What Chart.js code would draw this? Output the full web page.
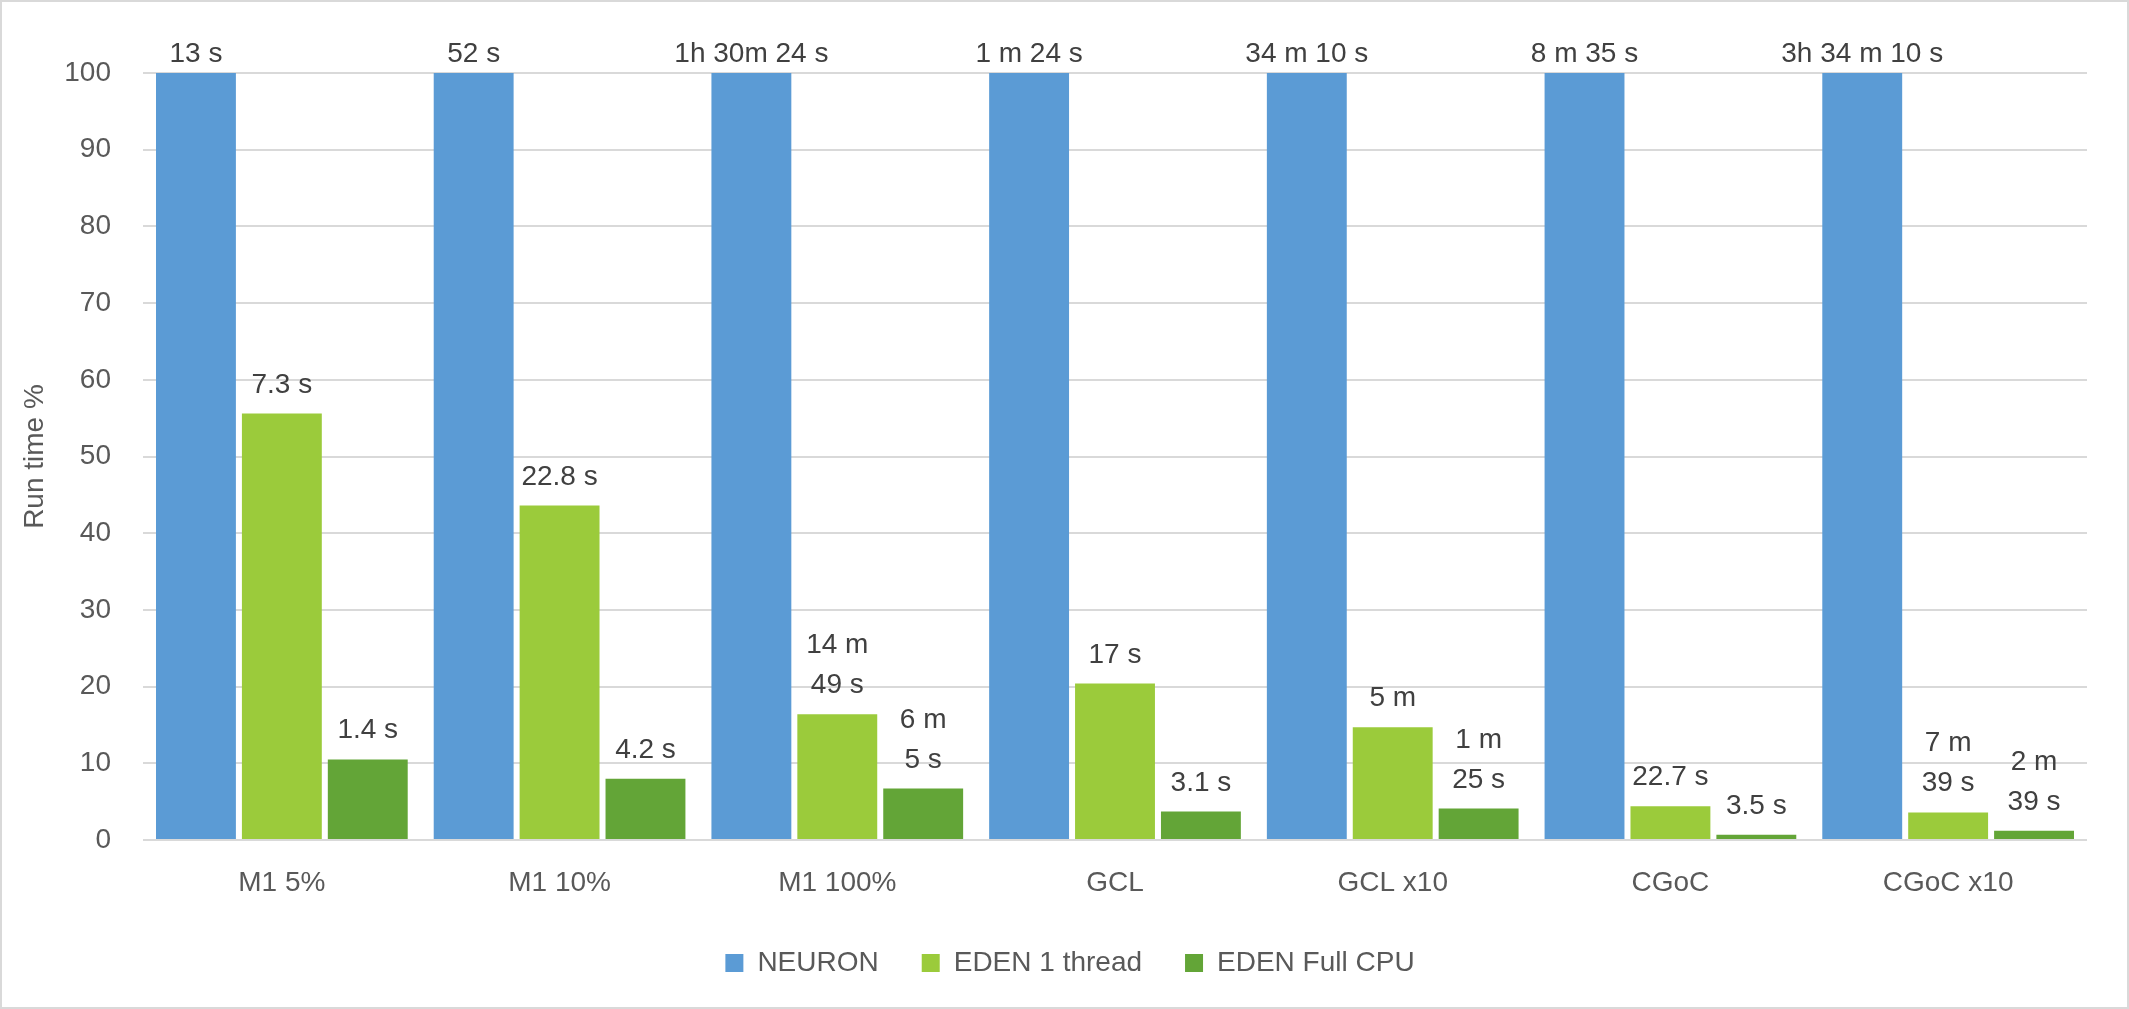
<!DOCTYPE html>
<html>
<head>
<meta charset="utf-8">
<script src="https://cdn.jsdelivr.net/npm/chart.js@4/dist/chart.umd.min.js"></script>
<style>
  html, body { margin: 0; padding: 0; background: #fff; }
  #wrap { width: 2129px; height: 1009px; position: relative; }
</style>
</head>
<body>
<div id="wrap"><canvas id="c"></canvas></div>
<script>
// Run time relative to NEURON (%), with the absolute run times as labels.
const categories = ["M1 5%", "M1 10%", "M1 100%", "GCL", "GCL x10", "CGoC", "CGoC x10"];
const seriesNames = ["NEURON", "EDEN 1 thread", "EDEN Full CPU"];
const neuron = [100, 100, 100, 100, 100, 100, 100];
const eden1 = [55.6, 43.6, 16.4, 20.4, 14.7, 4.4, 3.6];
const edenFull = [10.5, 8.0, 6.7, 3.7, 4.1, 0.7, 1.2];
const neuronLabels = ["13 s", "52 s", "1h 30m 24 s", "1 m 24 s", "34 m 10 s", "8 m 35 s", "3h 34 m 10 s"];
const eden1Labels = ["7.3 s", "22.8 s", "14 m\n49 s", "17 s", "5 m", "22.7 s", "7 m\n39 s"];
const edenFullLabels = ["1.4 s", "4.2 s", "6 m\n5 s", "3.1 s", "1 m\n25 s", "3.5 s", "2 m\n39 s"];
const yTicks = [0, 10, 20, 30, 40, 50, 60, 70, 80, 90, 100];

const FONT = "'Liberation Sans', Arial, sans-serif";
const GREY = "#595959";

// White background and the thin frame round the whole chart.
const framePlugin = {
  id: "frame",
  beforeDraw(chart) {
    const { ctx, width, height } = chart;
    ctx.save();
    ctx.fillStyle = "#fff";
    ctx.fillRect(0, 0, width, height);
    ctx.strokeStyle = "#d9d9d9";
    ctx.lineWidth = 2;
    ctx.strokeRect(1, 1, width - 2, height - 2);
    ctx.restore();
  },
};

// Value labels above each bar; multi-line ones stack upwards.
const barLabels = [neuronLabels, eden1Labels, edenFullLabels];
const labelPlugin = {
  id: "barLabels",
  afterDatasetsDraw(chart) {
    const { ctx } = chart;
    ctx.save();
    ctx.font = `28px ${FONT}`;
    ctx.fillStyle = "#404040";
    ctx.textAlign = "center";
    ctx.textBaseline = "alphabetic";
    chart.data.datasets.forEach((ds, di) => {
      chart.getDatasetMeta(di).data.forEach((bar, i) => {
        const lines = barLabels[di][i].split("\n");
        const base = Math.max(bar.y - 21, 62);
        lines.forEach((line, li) => {
          ctx.fillText(line, bar.x, base - (lines.length - 1 - li) * 40);
        });
      });
    });
    ctx.restore();
  },
};

new Chart(document.getElementById("c"), {
  type: "bar",
  data: {
    labels: categories,
    datasets: [
      { label: seriesNames[0], data: neuron, backgroundColor: "#5b9bd5" },
      { label: seriesNames[1], data: eden1, backgroundColor: "#9bcb3b" },
      { label: seriesNames[2], data: edenFull, backgroundColor: "#63a537" },
    ],
  },
  options: {
    responsive: true,
    maintainAspectRatio: false,
    devicePixelRatio: 1,
    animation: false,
    datasets: { bar: { categoryPercentage: 0.928, barPercentage: 0.93, borderWidth: 0 } },
    layout: { padding: { top: 73, left: 53, right: 42, bottom: 22 } },
    plugins: {
      tooltip: { enabled: false },
      legend: {
        position: "bottom",
        labels: {
          color: GREY,
          font: { family: FONT, size: 28 },
          boxWidth: 18,
          boxHeight: 18,
          padding: 43,
        },
      },
    },
    scales: {
      x: {
        grid: { display: false, drawTicks: false },
        border: { display: false },
        ticks: { color: GREY, font: { family: FONT, size: 28 }, padding: 26 },
        afterFit(scale) { scale.height = 66; },
      },
      y: {
        min: 0,
        max: 100,
        afterBuildTicks(scale) { scale.ticks = yTicks.map((v) => ({ value: v })); },
        grid: { color: "#d9d9d9", lineWidth: 2, drawTicks: false },
        border: { display: false },
        ticks: { color: GREY, font: { family: FONT, size: 28 }, padding: 32 },
        title: {
          display: true,
          text: "Run time %",
          color: GREY,
          font: { family: FONT, size: 28 },
          padding: { top: -35, bottom: 0 },
        },
        afterFit(scale) { scale.width = 90; },
      },
    },
  },
  plugins: [framePlugin, labelPlugin],
});
</script>
</body>
</html>
